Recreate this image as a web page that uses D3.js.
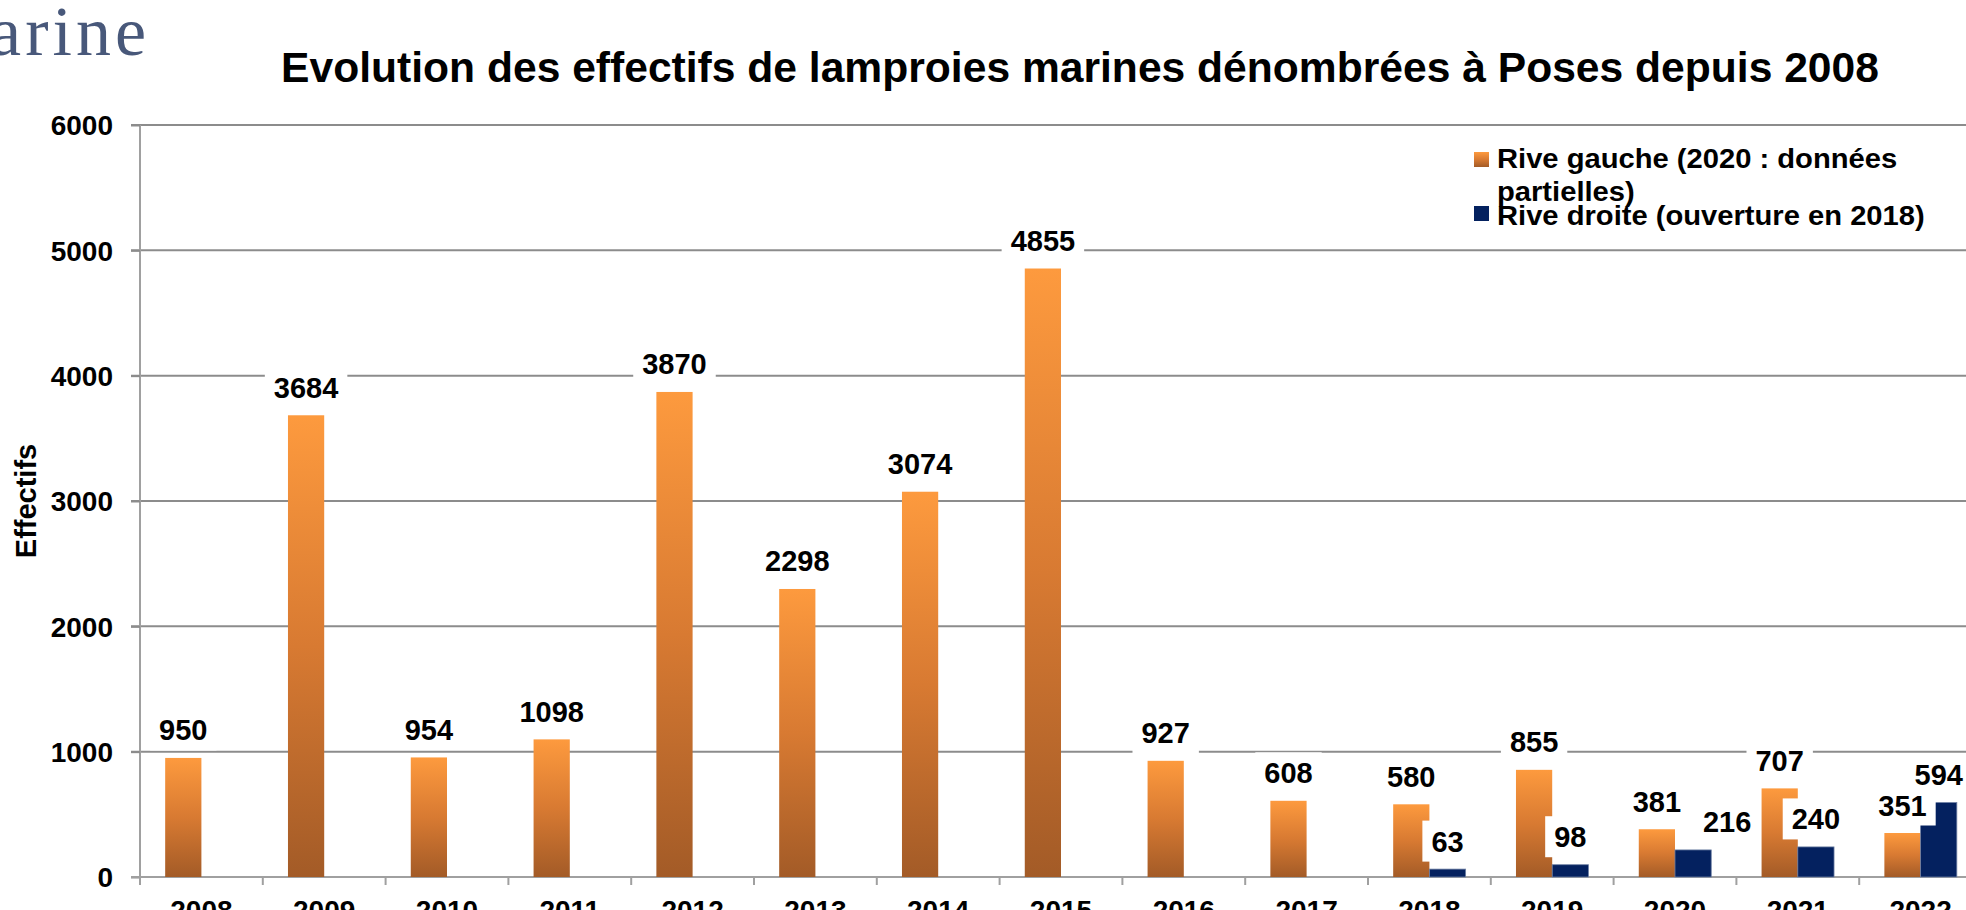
<!DOCTYPE html>
<html>
<head>
<meta charset="utf-8">
<script src="https://cdn.jsdelivr.net/npm/d3@7"></script>
<style>
  body { margin: 0; background: #fff; overflow: hidden; }
  svg { display: block; font-family: "Liberation Sans", Arial, sans-serif; }
</style>
</head>
<body>
<svg id="chart" width="1966" height="910"></svg>
<script>
const years = ['2008', '2009', '2010', '2011', '2012', '2013', '2014', '2015',
               '2016', '2017', '2018', '2019', '2020', '2021', '2022'];
const riveGauche = [950, 3684, 954, 1098, 3870, 2298, 3074, 4855, 927, 608, 580, 855, 381, 707, 351];
const riveDroite = [null, null, null, null, null, null, null, null, null, null, 63, 98, 216, 240, 594];
const yTicks = [0, 1000, 2000, 3000, 4000, 5000, 6000];
const legendLines = [
    ['Rive gauche (2020 : données', 'partielles)'],
    ['Rive droite (ouverture en 2018)']
];
const chartTitle = 'Evolution des effectifs de lamproies marines dénombrées à Poses depuis 2008';
const yTitle = 'Effectifs';

const W = 1966, H = 910;
const plot = { left: 140, right: 1982, top: 125, bottom: 877 };
const orangeTop = '#fd9a3e', orangeBottom = '#a35b27';
const blue = '#04215f';
// hand-moved labels in the original (label key -> x shift in px)
const labelNudge = { 'd2020': 34 };

const svg = d3.select('#chart');

const defs = svg.append('defs');
const grad = defs.append('linearGradient')
    .attr('id', 'orangeGrad')
    .attr('x1', 0).attr('y1', 0).attr('x2', 0).attr('y2', 1);
grad.append('stop').attr('offset', '0%').attr('stop-color', orangeTop);
grad.append('stop').attr('offset', '50%').attr('stop-color', '#d87a32');
grad.append('stop').attr('offset', '100%').attr('stop-color', orangeBottom);

const x = d3.scaleBand()
    .domain(years)
    .range([plot.left, plot.right])
    .paddingInner(0.41)
    .paddingOuter(0.205);

const x1 = d3.scaleBand()
    .domain(['g', 'd'])
    .range([0, x.bandwidth()]);

const y = d3.scaleLinear()
    .domain([0, 6000])
    .range([plot.bottom, plot.top]);

// logo fragment top left
svg.append('text')
    .attr('x', 150).attr('y', 55)
    .attr('text-anchor', 'end')
    .attr('font-family', '"Liberation Serif", "Times New Roman", serif')
    .attr('font-size', 70)
    .attr('letter-spacing', 4)
    .attr('fill', '#48587a')
    .text('marine');

// title
svg.append('text')
    .attr('x', 1080).attr('y', 82)
    .attr('text-anchor', 'middle')
    .attr('font-size', 42.6)
    .attr('font-weight', 'bold')
    .attr('fill', '#000')
    .text(chartTitle);

// gridlines
svg.append('g')
    .selectAll('line')
    .data(yTicks.filter(d => d > 0))
    .join('line')
    .attr('x1', plot.left - 9).attr('x2', W)
    .attr('y1', d => y(d)).attr('y2', d => y(d))
    .attr('stroke', '#8c8c8c')
    .attr('stroke-width', 2);

// y axis
const yAxis = svg.append('g')
    .attr('transform', `translate(${plot.left},0)`)
    .call(d3.axisLeft(y).tickValues(yTicks).tickSize(9).tickPadding(18).tickFormat(d3.format('d')));
yAxis.select('.domain').attr('stroke', '#a0a0a0').attr('stroke-width', 2)
    .attr('d', `M0,${plot.top}V${plot.bottom + 8}`);
yAxis.selectAll('.tick line').attr('stroke', '#8c8c8c').attr('stroke-width', 2);
yAxis.selectAll('.tick text')
    .attr('font-family', '"Liberation Sans", Arial, sans-serif')
    .attr('font-size', 28)
    .attr('font-weight', 'bold')
    .attr('fill', '#000')
    .attr('dy', '0.35em');

// x axis line
svg.append('line')
    .attr('x1', plot.left - 9).attr('x2', W)
    .attr('y1', plot.bottom).attr('y2', plot.bottom)
    .attr('stroke', '#a0a0a0')
    .attr('stroke-width', 2);

// x ticks between categories
const gap = x.step() - x.bandwidth();
const bounds = years.map(d => x(d) - gap / 2).concat([x(years[years.length - 1]) + x.bandwidth() + gap / 2]);
svg.append('g')
    .selectAll('line')
    .data(bounds)
    .join('line')
    .attr('x1', d => d).attr('x2', d => d)
    .attr('y1', plot.bottom).attr('y2', plot.bottom + 8)
    .attr('stroke', '#a0a0a0')
    .attr('stroke-width', 2);

// x labels
svg.append('g')
    .selectAll('text')
    .data(years)
    .join('text')
    .attr('x', d => x(d) + x.bandwidth() / 2)
    .attr('y', plot.bottom + 43)
    .attr('text-anchor', 'middle')
    .attr('font-size', 28)
    .attr('font-weight', 'bold')
    .text(d => d);

// y title
svg.append('text')
    .attr('transform', 'translate(36,501) rotate(-90)')
    .attr('text-anchor', 'middle')
    .attr('font-size', 29)
    .attr('font-weight', 'bold')
    .text(yTitle);

// bars
const gData = years.map((yr, i) => ({ year: yr, value: riveGauche[i] }));
const dData = years.map((yr, i) => ({ year: yr, value: riveDroite[i] })).filter(d => d.value != null);

svg.append('g')
    .selectAll('rect')
    .data(gData)
    .join('rect')
    .attr('x', d => x(d.year) + x1('g'))
    .attr('y', d => y(d.value))
    .attr('width', x1.bandwidth())
    .attr('height', d => y(0) - y(d.value))
    .attr('fill', 'url(#orangeGrad)');

svg.append('g')
    .selectAll('rect')
    .data(dData)
    .join('rect')
    .attr('x', d => x(d.year) + x1('d'))
    .attr('y', d => y(d.value))
    .attr('width', x1.bandwidth())
    .attr('height', d => y(0) - y(d.value))
    .attr('fill', blue)
    .attr('stroke', '#6d7fa3')
    .attr('stroke-width', 0.8);

// data labels with white boxes (drawn after all bars, like the original)
function addLabels(data, key) {
    const g = svg.append('g');
    data.forEach(d => {
        const shift = labelNudge[key + d.year] || 0;
        const cx = x(d.year) + x1(key) + x1.bandwidth() / 2 + shift;
        const by = y(d.value) - 17.5;
        const lg = g.append('g');
        const box = lg.append('rect').attr('fill', '#fff');
        const t = lg.append('text')
            .attr('x', cx).attr('y', by)
            .attr('text-anchor', 'middle')
            .attr('font-size', 29)
            .attr('font-weight', 'bold')
            .attr('fill', '#000')
            .text(d.value);
        const bb = t.node().getBBox();
        box.attr('x', bb.x - 9).attr('y', bb.y - 5)
            .attr('width', bb.width + 18).attr('height', bb.height + 9);
    });
}
addLabels(gData, 'g');
addLabels(dData, 'd');

// legend
const legend = svg.append('g');
const legColors = ['url(#orangeGrad)', blue];
const legSquareY = [152, 206];
const legBaselines = [[168, 201], [225]];
legendLines.forEach((lines, i) => {
    legend.append('rect')
        .attr('x', 1474).attr('y', legSquareY[i])
        .attr('width', 15).attr('height', 15)
        .attr('fill', legColors[i]);
    lines.forEach((ln, j) => {
        legend.append('text')
            .attr('transform', `translate(1497,${legBaselines[i][j]}) scale(1.08,1)`)
            .attr('font-size', 27)
            .attr('font-weight', 'bold')
            .attr('fill', '#000')
            .text(ln);
    });
});
</script>
</body>
</html>
